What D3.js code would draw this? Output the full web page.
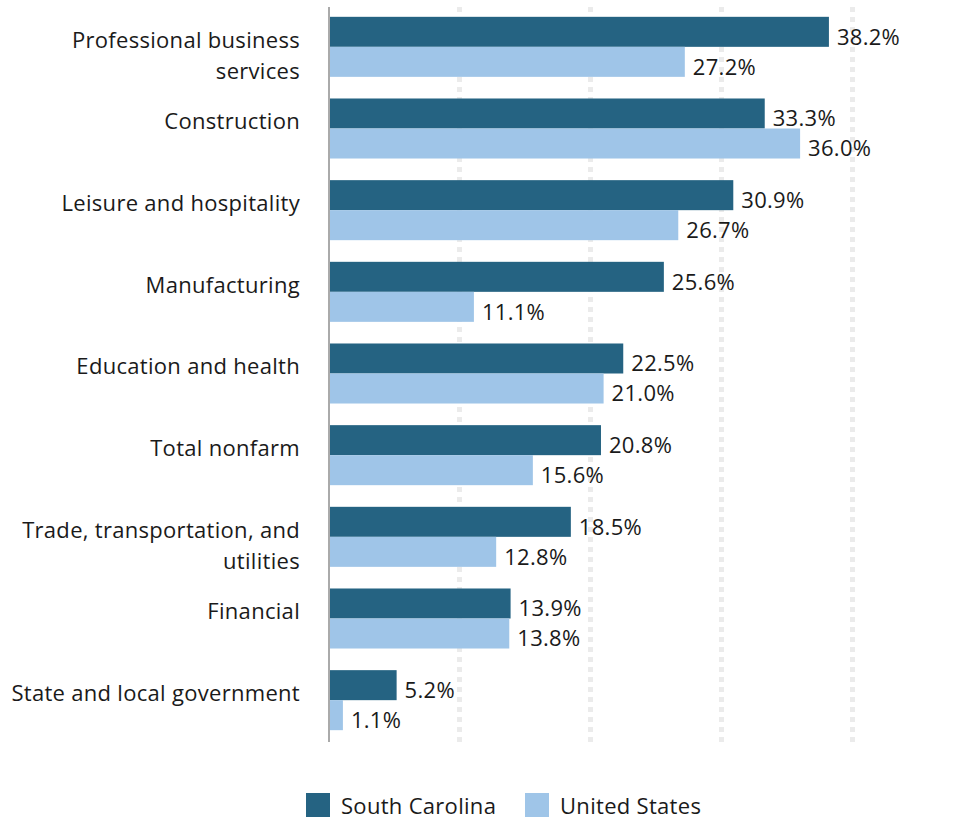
<!DOCTYPE html>
<html>
<head>
<meta charset="utf-8">
<script src="https://cdn.jsdelivr.net/npm/d3@7"></script>
<style>
  html, body { margin: 0; padding: 0; background: #fff; }
  svg { display: block; }
  text { font-family: "Open Sans", "Lato", sans-serif; fill: #1a1a1a; letter-spacing: 0.3px; }
</style>
</head>
<body>
<svg id="chart" width="977" height="821"></svg>
<script>
// Employment growth by industry, South Carolina vs. United States (%)
const categories = [
  ["Professional business", "services"],
  ["Construction"],
  ["Leisure and hospitality"],
  ["Manufacturing"],
  ["Education and health"],
  ["Total nonfarm"],
  ["Trade, transportation, and", "utilities"],
  ["Financial"],
  ["State and local government"]
];
const southCarolina = [38.2, 33.3, 30.9, 25.6, 22.5, 20.8, 18.5, 13.9, 5.2];
const unitedStates  = [27.2, 36.0, 26.7, 11.1, 21.0, 15.6, 12.8, 13.8, 1.1];
const seriesNames = ["South Carolina", "United States"];
const gridTicks = [10, 20, 30, 40];

const colors = ["#256382", "#9fc5e8"];
const fontSize = 22;
const svg = d3.select("#chart");

const x = d3.scaleLinear().domain([0, 40]).range([328.5, 852.5]);
const y = d3.scaleBand()
  .domain(d3.range(categories.length))
  .range([6, 741])
  .paddingInner(0.265)
  .paddingOuter(0.1325);
const sub = d3.scaleBand().domain([0, 1]).range([0, y.bandwidth()]);

// dotted gridlines
svg.append("g").selectAll("line")
  .data(gridTicks).join("line")
  .attr("x1", d => x(d)).attr("x2", d => x(d))
  .attr("y1", 7).attr("y2", 742)
  .attr("stroke", "#ebebeb")
  .attr("stroke-width", 5)
  .attr("stroke-dasharray", "5,5");

const rows = categories.map((c, i) => ({ i, label: c, values: [southCarolina[i], unitedStates[i]] }));

const groups = svg.append("g").selectAll("g")
  .data(rows).join("g")
  .attr("transform", d => `translate(0,${y(d.i)})`);

groups.selectAll("rect")
  .data(d => d.values.map((v, k) => ({ v, k })))
  .join("rect")
  .attr("x", x(0))
  .attr("y", d => sub(d.k))
  .attr("width", d => x(d.v) - x(0))
  .attr("height", sub.bandwidth())
  .attr("fill", d => colors[d.k]);

// value labels sit slightly below the bar's centre line
groups.selectAll("text.val")
  .data(d => d.values.map((v, k) => ({ v, k })))
  .join("text")
  .attr("class", "val")
  .attr("x", d => x(d.v) + 8)
  .attr("y", d => sub(d.k) + sub.bandwidth() / 2 + 5)
  .attr("dy", "0.35em")
  .attr("font-size", fontSize)
  .text(d => d.v.toFixed(1) + "%");

// category labels
groups.append("text")
  .attr("text-anchor", "end")
  .attr("font-size", fontSize)
  .attr("x", 300)
  .attr("y", y.bandwidth() / 2 - 7)
  .selectAll("tspan")
  .data(d => d.label)
  .join("tspan")
  .attr("x", 300)
  .attr("dy", (d, j) => j === 0 ? "0.35em" : 31)
  .text(d => d);

// axis baseline
svg.append("line")
  .attr("x1", 329).attr("x2", 329)
  .attr("y1", 7).attr("y2", 742)
  .attr("stroke", "#aaaaaa")
  .attr("stroke-width", 2);

// legend
const legend = svg.append("g");
const legendX = [306, 525];
seriesNames.forEach((name, k) => {
  legend.append("rect")
    .attr("x", legendX[k]).attr("y", 793)
    .attr("width", 24).attr("height", 24)
    .attr("fill", colors[k]);
  legend.append("text")
    .attr("x", legendX[k] + 35).attr("y", 806)
    .attr("dy", "0.35em")
    .attr("font-size", fontSize)
    .text(name);
});
</script>
</body>
</html>
